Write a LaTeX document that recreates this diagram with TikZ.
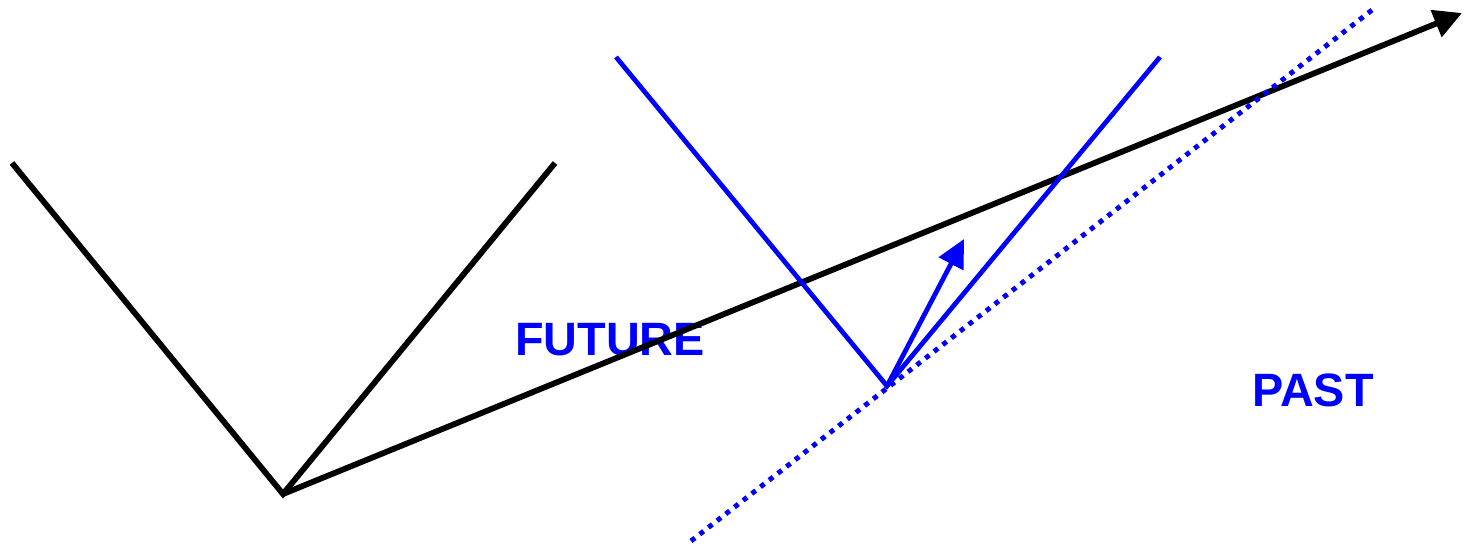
\documentclass[tikz,border=0pt]{standalone}
\usepackage{fontspec}
\setmainfont{Liberation Sans}
\usetikzlibrary{arrows.meta}

\tikzset{
	cone/.style={line width=1.65pt},
	bluecone/.style={blue, line width=1.35pt},
	label/.style={text=blue, font=\bfseries\fontsize{13.3}{15}\selectfont},
}

\begin{document}
\begin{tikzpicture}[x=0.01cm, y=-0.01cm]
		\useasboundingbox (0, 0) rectangle (1470, 547);

		\coordinate (O) at (283, 494);
		\coordinate (OL) at (12, 163);
		\coordinate (OR) at (555, 163);
		\coordinate (OT) at (1462, 13);

		\coordinate (Q) at (887, 386);
		\coordinate (QL) at (616, 57);
		\coordinate (QR) at (1160, 57);
		\coordinate (QT) at (964, 239);
		\coordinate (S1) at (691, 541);
		\coordinate (S2) at (1372, 10);

		\node[label] (future) at (610, 340) {FUTURE};
		\node[label] (past) at (1313, 390) {PAST};

		\draw[cone] (OL) -- (O) -- (OR);
		\draw[cone, -{Triangle[length=0.28cm, width=0.28cm]}] (O) -- (OT);

		\draw[bluecone] (QL) -- (Q) -- (QR);
		\draw[bluecone, -{Triangle[length=0.28cm, width=0.27cm]}] (Q) -- (QT);
		\draw[blue, line width=1.4pt, dash pattern=on 0.05cm off 0.06cm] (S1) -- (S2);
	\end{tikzpicture}
\end{document}
